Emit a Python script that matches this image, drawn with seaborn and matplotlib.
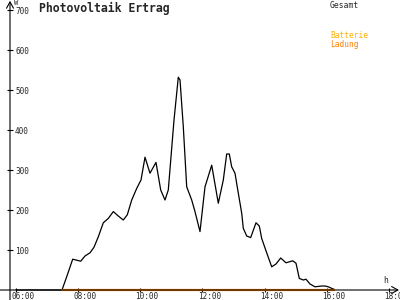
import matplotlib
matplotlib.use('Agg')
import matplotlib.pyplot as plt
import seaborn as sns

sns.set_style('white')
plt.rcParams['font.family'] = ['DejaVu Sans Mono']

# ---- data (hours of day, Watt) ----
time_h = [6.0, 7.480, 7.631, 7.824, 7.930, 8.082, 8.220, 8.381, 8.510, 8.648, 8.809,
          8.970, 9.131, 9.291, 9.452, 9.581, 9.723, 9.884, 10.022, 10.151, 10.311,
          10.504, 10.656, 10.794, 10.900, 11.084, 11.222, 11.277, 11.383, 11.492,
          11.653, 11.759, 11.920, 12.081, 12.297, 12.509, 12.670, 12.779, 12.863,
          12.940, 13.046, 13.153, 13.262, 13.314, 13.423, 13.551, 13.722, 13.828,
          13.905, 14.066, 14.227, 14.365, 14.517, 14.687, 14.903, 15.009, 15.115,
          15.244, 15.331, 15.459, 15.620, 15.836, 15.942, 16.048, 16.158, 16.232]
gesamt_w = [0, 0, 33, 77, 75, 72, 85, 93, 107, 133, 168,
            179, 196, 185, 175, 188, 225, 254, 275, 332, 292,
            319, 250, 225, 250, 425, 532, 525, 408, 258,
            225, 196, 146, 258, 312, 217, 275, 340, 340,
            308, 292, 242, 192, 154, 135, 131, 168, 160,
            129, 93, 58, 65, 80, 68, 73, 67, 29,
            25, 27, 15, 8, 10, 10, 8, 4, 2]
ladung_time_h = [7.480, 16.232]
ladung_w = [0, 0]

y_ticks = [100, 200, 300, 400, 500, 600, 700]
x_ticks = [6, 8, 10, 12, 14, 16, 18]
x_tick_labels = ['06:00', '08:00', '10:00', '12:00', '14:00', '16:00', '18:00']

# ---- figure ----
PX = 31.08                      # pixels per hour
X0 = 6 - 16 / PX                # left edge of the picture in hours
YAX = 6 - 6 / PX                # position of the vertical axis

fig = plt.figure(figsize=(4, 3), dpi=100)
ax = fig.add_axes([0, 0, 1, 1])
ax.set_xlim(X0, X0 + 400 / PX)
ax.set_ylim(-25, 725)

sns.lineplot(x=time_h, y=gesamt_w, color='black', lw=0.9, ax=ax,
             sort=False, estimator=None)
sns.lineplot(x=ladung_time_h, y=ladung_w, color='#FF8000', lw=1.6, ax=ax,
             sort=False, estimator=None)

for s in ax.spines.values():
    s.set_visible(False)
ax.spines['left'].set_position(('data', YAX))
ax.spines['bottom'].set_position(('data', 0))

# axis lines with arrows
arrow = dict(arrowstyle='->,head_length=0.45,head_width=0.25', lw=0.8,
             color='black', shrinkA=0, shrinkB=0)
ax.annotate('', xy=(YAX, 723), xytext=(YAX, -25), arrowprops=arrow)
ax.annotate('', xy=(X0 + 399 / PX, 0), xytext=(X0, 0), arrowprops=arrow)

# ticks
ax.set_xticks(x_ticks)
ax.set_xticklabels([])
ax.tick_params(axis='x', bottom=True, direction='inout', length=3,
               width=0.8, color='black')
ax.set_yticks(y_ticks)
ax.set_yticklabels([str(v) for v in y_ticks], ha='left')
ax.tick_params(axis='y', left=True, direction='inout', length=4.3,
               width=0.8, color='black', pad=-5.8, labelsize=5.6)

for h, lab in zip(x_ticks, x_tick_labels):
    ax.annotate(lab, xy=(h, 0), xytext=(-4.7 * 0.72, -1.2), textcoords='offset points',
                ha='left', va='top', fontsize=5.5, annotation_clip=False)

# texts
fig.text(39 / 400, 1 - 1.5 / 300, 'Photovoltaik Ertrag', fontsize=8.3,
         fontweight='bold', ha='left', va='top')
fig.text(14 / 400, 1 - 0 / 300, 'W', fontsize=5.0, ha='left', va='top')
fig.text(330 / 400, 1 - 0.5 / 300, 'Gesamt', fontsize=5.8, ha='left', va='top')
fig.text(330 / 400, 1 - 31.5 / 300, 'Batterie', fontsize=5.7, ha='left', va='top',
         color='#FFB000')
fig.text(330 / 400, 1 - 40 / 300, 'Ladung', fontsize=5.7, ha='left', va='top',
         color='#FF8000')
fig.text(383 / 400, 1 - 276 / 300, 'h', fontsize=5.8, ha='left', va='top')

fig.savefig('out.png', dpi=100)
